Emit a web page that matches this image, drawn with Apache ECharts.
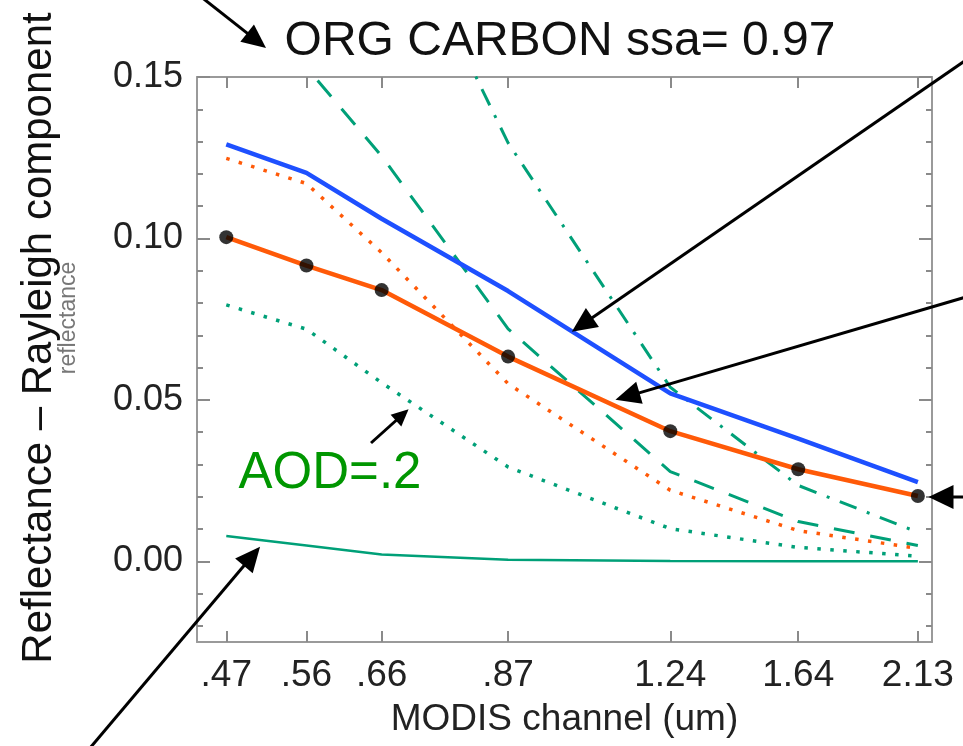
<!DOCTYPE html>
<html><head><meta charset="utf-8">
<script src="https://cdn.jsdelivr.net/npm/echarts@6/dist/echarts.min.js"></script>
<style>html,body{margin:0;padding:0;background:#fff}#c{width:963px;height:746px}</style>
</head><body><div id="c"></div>
<script>
// ---- data ----
const channels = [0.47, 0.56, 0.66, 0.87, 1.24, 1.64, 2.13];
const channelLabels = ['.47', '.56', '.66', '.87', '1.24', '1.64', '2.13'];
const yTickValues = [0.00, 0.05, 0.10, 0.15];
const yMinorTickValues = [-0.02, -0.01, 0.01, 0.02, 0.03, 0.04, 0.06, 0.07, 0.08, 0.09, 0.11, 0.12, 0.13, 0.14];
const blueSolid    = [0.1291, 0.1203, 0.1061, 0.0837, 0.0520, 0.0380, 0.0245];
const orangeSolid  = [0.1004, 0.0916, 0.0840, 0.0634, 0.0403, 0.0285, 0.0202];
const measuredDots = [0.1004, 0.0916, 0.0840, 0.0634, 0.0403, 0.0285, 0.0202];
const orangeDotted = [0.1248, 0.1170, 0.0956, 0.0550, 0.0220, 0.0095, 0.0040];
const greenDotted  = [0.0794, 0.0719, 0.0553, 0.0292, 0.0101, 0.0043, 0.0016];
const greenDashed  = [0.1850, 0.1530, 0.1255, 0.0720, 0.0278, 0.0123, 0.0049];
const greenDashDot = [0.3000, 0.2600, 0.2100, 0.1296, 0.0539, 0.0235, 0.0090];
const greenSolid   = [0.0078, 0.0049, 0.0021, 0.0005, 0.0001, 0.0000, 0.0000];
// annotation arrow tips in data space: [wavelength, value]
const arrowTips = [[1.00, 0.0711], [1.10, 0.0500], [2.18, 0.0199], [0.506, 0.0045], [0.70, 0.0471]];

const FONT = '"Liberation Sans", Arial, Helvetica, sans-serif';
const GREEN = '#00A078', ORANGE = '#FF5A08', BLUE = '#1E50FF', FRAME = '#9a9a9a', TICK = '#8a8a8a';
const lnCh = channels.map(Math.log);
const pts = vals => channels.map((c, i) => [Math.log(c), vals[i]]);
const labelFor = v => { const i = lnCh.findIndex(x => Math.abs(x - v) < 1e-6); return i >= 0 ? channelLabels[i] : ''; };

const XMIN = -0.819, XMAX = 0.787, YMIN = -0.025, YMAX = 0.15;
const chart = echarts.init(document.getElementById('c'), null, {renderer: 'canvas'});

function xAx(pos) {
  return {
    type: 'value', position: pos, min: XMIN, max: XMAX,
    axisLine: {show: true, onZero: false, lineStyle: {color: FRAME, width: 2}},
    axisTick: {show: true, inside: true, length: 11, customValues: lnCh, lineStyle: {color: TICK, width: 2}},
    axisLabel: pos === 'bottom'
      ? {show: true, customValues: lnCh, formatter: labelFor, color: '#222', fontSize: 37, fontFamily: FONT, margin: 15}
      : {show: false},
    splitLine: {show: false},
    name: pos === 'bottom' ? 'MODIS channel (um)' : '',
    nameLocation: 'middle', nameGap: 78,
    nameTextStyle: {fontSize: 37, color: '#222', fontFamily: FONT, verticalAlign: 'middle'}
  };
}
function yAx(pos, major) {
  return {
    type: 'value', position: pos, offset: 0, min: YMIN, max: YMAX,
    axisLine: {show: major, onZero: false, lineStyle: {color: FRAME, width: 2}},
    axisTick: {show: true, inside: true, length: major ? 13 : 6,
      customValues: major ? yTickValues : yMinorTickValues, lineStyle: {color: TICK, width: 2}},
    axisLabel: (major && pos === 'left')
      ? {show: true, customValues: yTickValues, formatter: v => v.toFixed(2), color: '#222', fontSize: 36, fontFamily: FONT, margin: 14}
      : {show: false},
    splitLine: {show: false}
  };
}
function line(vals, color, width, type, z) {
  return {type: 'line', data: pts(vals), showSymbol: false, symbol: 'none', clip: true, z: z,
    lineStyle: {color: color, width: width, type: type, cap: 'butt'}, silent: true};
}

chart.setOption({
  animation: false,
  backgroundColor: '#fff',
  grid: {left: 197, right: 31, top: 77, bottom: 104, containLabel: false},
  xAxis: [xAx('bottom'), xAx('top')],
  yAxis: [yAx('left', true), yAx('left', false), yAx('right', true), yAx('right', false)],
  series: [
    line(greenSolid, GREEN, 2.5, 'solid', 2),
    line(greenDotted, GREEN, 3.5, [3.5, 9.5], 2),
    line(orangeDotted, ORANGE, 3.5, [3.5, 9.5], 2),
    line(greenDashed, GREEN, 3, [21, 16], 2),
    line(greenDashDot, GREEN, 3, [18, 11, 3, 11], 2),
    line(blueSolid, BLUE, 4.5, 'solid', 3),
    line(orangeSolid, ORANGE, 4.5, 'solid', 3),
    {type: 'scatter', data: pts(measuredDots), symbol: 'circle', symbolSize: 14, z: 4,
      itemStyle: {color: '#000'}, silent: true}
  ]
});

function arrow(x1, y1, x2, y2, hl, hw, lw) {
  const dx = x2 - x1, dy = y2 - y1, L = Math.hypot(dx, dy), ux = dx / L, uy = dy / L;
  const bx = x2 - ux * hl, by = y2 - uy * hl, px = -uy, py = ux;
  return [
    {type: 'line', z: 10, shape: {x1: x1, y1: y1, x2: bx + ux * 2, y2: by + uy * 2}, style: {stroke: '#000', lineWidth: lw}},
    {type: 'polygon', z: 10, shape: {points: [[x2, y2], [bx + px * hw / 2, by + py * hw / 2], [bx - px * hw / 2, by - py * hw / 2]]}, style: {fill: '#000'}}
  ];
}
const tip = i => chart.convertToPixel({gridIndex: 0}, [Math.log(arrowTips[i][0]), arrowTips[i][1]]);
const t = arrowTips.map((_, i) => tip(i));

const graphics = [].concat(
  arrow(200, -4, 266, 48, 24, 22, 3),
  arrow(966, 60, t[0][0], t[0][1], 25, 23, 3),
  arrow(966, 297, t[1][0], t[1][1], 25, 23, 3),
  arrow(966, 497, t[2][0], t[2][1], 25, 24, 3),
  arrow(90, 748, t[3][0], t[3][1], 25, 23, 3),
  arrow(371, 443, t[4][0], t[4][1], 17, 16, 3),
  [
    {type: 'text', z: 10, x: 560, y: 42, style: {text: 'ORG CARBON ssa= 0.97', fontSize: 48, fontFamily: FONT, fill: '#111', align: 'center', verticalAlign: 'middle'}},
    {type: 'text', z: 10, x: 330, y: 474, style: {text: 'AOD=.2', fontSize: 51, fontFamily: FONT, fill: '#009600', align: 'center', verticalAlign: 'middle'}},
    {type: 'text', z: 9, x: 69, y: 318, rotation: Math.PI / 2, style: {text: 'reflectance', fontSize: 23, fontFamily: FONT, fill: '#777', align: 'center', verticalAlign: 'middle'}},
    {type: 'text', z: 10, x: 39, y: 338, rotation: Math.PI / 2, style: {text: 'Reflectance \u2013 Rayleigh component', fontSize: 42, fontFamily: FONT, fill: '#111', align: 'center', verticalAlign: 'middle'}}
  ]
);
chart.setOption({graphic: graphics});
</script>
</body></html>
